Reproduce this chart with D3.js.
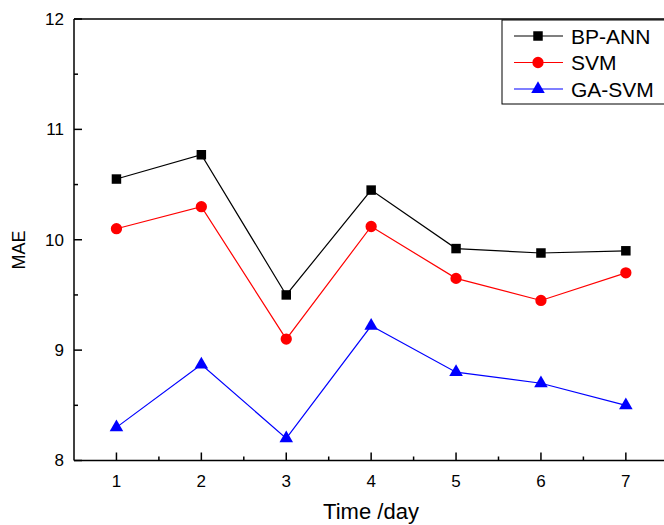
<!DOCTYPE html>
<html>
<head>
<script src="https://d3js.org/d3.v7.min.js"></script>
<style>
  body { margin: 0; background: #fff; }
  text { font-family: "Liberation Sans", Arial, sans-serif; fill: #000; }
</style>
</head>
<body>
<div id="chart"></div>
<script>
const days = [1, 2, 3, 4, 5, 6, 7];
const bpAnn = [10.55, 10.77, 9.50, 10.45, 9.92, 9.88, 9.90];
const svmVals = [10.10, 10.30, 9.10, 10.12, 9.65, 9.45, 9.70];
const gaSvm = [8.30, 8.87, 8.20, 9.22, 8.80, 8.70, 8.50];
const seriesNames = ["BP-ANN", "SVM", "GA-SVM"];
const yTicks = [8, 9, 10, 11, 12];

const width = 664, height = 525;
const margin = {top: 19, left: 74, bottom: 64.5};

const svg = d3.select("#chart").append("svg")
    .attr("width", width).attr("height", height);

const x = d3.scaleLinear().domain([0.5, 7.5]).range([margin.left, margin.left + 7 * 84.9]);
const y = d3.scaleLinear().domain([8, 12]).range([height - margin.bottom, margin.top]);

const series = [
  {name: seriesNames[0], values: bpAnn, color: "#000000", symbol: d3.symbolSquare, size: 90},
  {name: seriesNames[1], values: svmVals, color: "#ff0000", symbol: d3.symbolCircle, size: 100},
  {name: seriesNames[2], values: gaSvm, color: "#0000ff", symbol: d3.symbolTriangle, size: 80}
];

// frame top line
svg.append("line")
    .attr("x1", x(0.5)).attr("x2", width)
    .attr("y1", y(12)).attr("y2", y(12))
    .attr("stroke", "#000").attr("stroke-width", 1.5);

// x axis
const xAxis = svg.append("g")
    .attr("transform", "translate(0," + y(8) + ")");
xAxis.append("line")
    .attr("x1", x(0.5)).attr("x2", width)
    .attr("stroke", "#000").attr("stroke-width", 1.5);
d3.range(1, 7.6, 0.5).forEach(v => {
  const major = Number.isInteger(v);
  xAxis.append("line")
      .attr("x1", x(v)).attr("x2", x(v))
      .attr("y1", 0).attr("y2", major ? -8 : -4)
      .attr("stroke", "#000").attr("stroke-width", 1.5);
});
xAxis.selectAll(".xl").data(days).enter().append("text")
    .attr("x", d => x(d)).attr("y", 26)
    .attr("text-anchor", "middle")
    .style("font-size", "17px")
    .text(d => d);

// y axis
const yAxis = svg.append("g");
yAxis.append("line")
    .attr("x1", x(0.5)).attr("x2", x(0.5))
    .attr("y1", y(8)).attr("y2", y(12))
    .attr("stroke", "#000").attr("stroke-width", 1.5);
d3.range(8, 12.01, 0.5).forEach(v => {
  const major = Number.isInteger(v);
  yAxis.append("line")
      .attr("x1", x(0.5)).attr("x2", x(0.5) + (major ? 8 : 4))
      .attr("y1", y(v)).attr("y2", y(v))
      .attr("stroke", "#000").attr("stroke-width", 1.5);
});
yAxis.selectAll(".yl").data(yTicks).enter().append("text")
    .attr("x", x(0.5) - 10).attr("y", d => y(d))
    .attr("dy", "0.35em")
    .attr("text-anchor", "end")
    .style("font-size", "17px")
    .text(d => d);

// axis titles
svg.append("text")
    .attr("x", 371).attr("y", 519)
    .attr("text-anchor", "middle")
    .style("font-size", "22px")
    .text("Time /day");
svg.append("text")
    .attr("transform", "translate(25,250) rotate(-90)")
    .attr("text-anchor", "middle")
    .style("font-size", "18px")
    .text("MAE");

// lines and markers
const line = d3.line().x((d, i) => x(days[i])).y(d => y(d));
series.forEach(s => {
  svg.append("path")
      .attr("d", line(s.values))
      .attr("fill", "none")
      .attr("stroke", s.color)
      .attr("stroke-width", 1.2);
  svg.selectAll(null).data(s.values).enter().append("path")
      .attr("d", d3.symbol().type(s.symbol).size(s.size))
      .attr("transform", (d, i) => "translate(" + x(days[i]) + "," + y(d) + ")")
      .attr("fill", s.color);
});

// legend
const lg = svg.append("g");
lg.append("rect")
    .attr("x", 502).attr("y", 20).attr("width", 170).attr("height", 84)
    .attr("fill", "#fff").attr("stroke", "#000").attr("stroke-width", 1);
series.forEach((s, i) => {
  const ly = 36 + i * 26.5;
  lg.append("line")
      .attr("x1", 514).attr("x2", 563).attr("y1", ly).attr("y2", ly)
      .attr("stroke", s.color).attr("stroke-width", 1.2);
  lg.append("path")
      .attr("d", d3.symbol().type(s.symbol).size(s.size))
      .attr("transform", "translate(538," + ly + ")")
      .attr("fill", s.color);
  lg.append("text")
      .attr("x", 571).attr("y", ly).attr("dy", "0.36em")
      .style("font-size", "21px")
      .text(s.name);
});
</script>
</body>
</html>
